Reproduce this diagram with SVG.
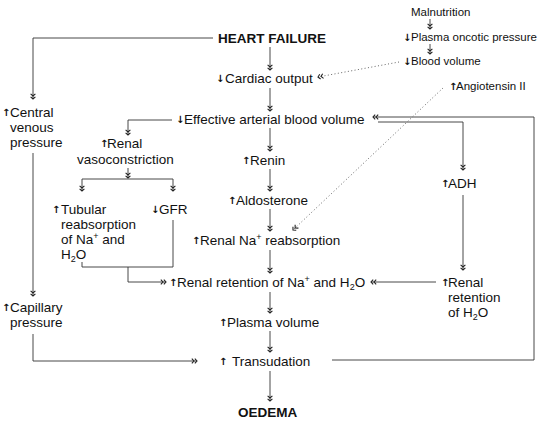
<svg xmlns="http://www.w3.org/2000/svg" width="545" height="428" viewBox="0 0 545 428">
<defs>
<style>
.t{font-family:"Liberation Sans",Arial,sans-serif;font-size:13.5px;fill:#111}
.b{font-weight:bold}
.s{font-size:11.5px}
.a{font-family:"DejaVu Sans",sans-serif;font-size:10px;font-weight:bold;fill:#111}
.sm{font-size:9px}
.ln{fill:none;stroke:#333;stroke-width:0.9;marker-end:url(#m)}
.ln2{fill:none;stroke:#333;stroke-width:0.9}
.dt{fill:none;stroke:#666;stroke-width:1;stroke-dasharray:1 2.4;marker-end:url(#m)}
</style>
<marker id="m" markerUnits="userSpaceOnUse" markerWidth="10" markerHeight="10" viewBox="-7 -5 10 10" refX="0" refY="0" orient="auto" overflow="visible">
<path d="M-2.2,-2.4 L0,0 L-2.2,2.4 M-5.2,-2.4 L-3,0 L-5.2,2.4" fill="none" stroke="#222" stroke-width="1.1"/>
</marker>
</defs>
<rect width="545" height="428" fill="#fff"/>

<g id="connectors">
<path class="ln" d="M213,38 H33 V99"/>
<path class="ln" d="M270,47 V70"/>
<path class="ln" d="M270,88 V111"/>
<path class="ln" d="M172,120 H128 V135"/>
<path class="ln" d="M128,168 V178"/>
<path class="ln" d="M128,179 H82 V191"/>
<path class="ln" d="M128,179 H173 V191"/>
<path class="ln" d="M270,128 V151"/>
<path class="ln" d="M270,169 V191"/>
<path class="ln" d="M270,209 V231"/>
<path class="ln" d="M270,250 V273"/>
<path class="ln2" d="M82,262 V267 H173 V220"/>
<path class="ln" d="M128,267 V282 H166"/>
<path class="ln" d="M270,292 V313"/>
<path class="ln" d="M270,331 V352"/>
<path class="ln" d="M270,371 V401"/>
<path class="ln" d="M33,153 V296"/>
<path class="ln" d="M33,334 V361 H197"/>
<path class="ln" d="M332,360 H534 V117 H373"/>
<path class="ln" d="M378,122 H463 V170"/>
<path class="ln" d="M463,195 V270"/>
<path class="ln" d="M436,282 H371"/>
<path class="ln" d="M430,19 V29"/>
<path class="ln" d="M430,44 V54"/>
<path class="dt" d="M399,62 L318,77"/>
<path class="dt" d="M443,88 L293,230"/>
</g>

<g id="n-hf"><text class="t b" x="218" y="43">HEART FAILURE</text></g>
<g id="n-co"><text class="a" x="216" y="82">↓</text><text class="t" x="225" y="83">Cardiac output</text></g>
<g id="n-eabv"><text class="a" x="176" y="123">↓</text><text class="t" x="184" y="124">Effective arterial blood volume</text></g>
<g id="n-cvp"><text class="a" x="2" y="116">↑</text><text class="t" x="10" y="117">Central</text><text class="t" x="10" y="132">venous</text><text class="t" x="10" y="147">pressure</text></g>
<g id="n-rv"><text class="a" x="100" y="147">↑</text><text class="t" x="107" y="148">Renal</text><text class="t" x="77" y="164">vasoconstriction</text></g>
<g id="n-tub"><text class="a" x="52" y="213">↑</text><text class="t" x="61" y="214">Tubular</text><text class="t" x="61" y="229">reabsorption</text><text class="t" x="61" y="244">of Na<tspan class="sm" dy="-5">+</tspan><tspan dy="5"> and</tspan></text><text class="t" x="61" y="259">H<tspan class="sm" dy="3">2</tspan><tspan dy="-3">O</tspan></text></g>
<g id="n-gfr"><text class="a" x="151" y="213">↓</text><text class="t" x="159" y="214">GFR</text></g>
<g id="n-renin"><text class="a" x="242" y="164">↑</text><text class="t" x="250" y="165">Renin</text></g>
<g id="n-aldo"><text class="a" x="228" y="204">↑</text><text class="t" x="236" y="205">Aldosterone</text></g>
<g id="n-rna"><text class="a" x="192" y="244">↑</text><text class="t" x="200" y="245">Renal Na<tspan class="sm" dy="-5">+</tspan><tspan dy="5"> reabsorption</tspan></text></g>
<g id="n-ret"><text class="a" x="169" y="286">↑</text><text class="t" x="177" y="287">Renal retention of Na<tspan class="sm" dy="-5">+</tspan><tspan dy="5"> and H</tspan><tspan class="sm" dy="3">2</tspan><tspan dy="-3">O</tspan></text></g>
<g id="n-adh"><text class="a" x="441" y="187">↑</text><text class="t" x="448" y="188">ADH</text></g>
<g id="n-rh2o"><text class="a" x="441" y="286">↑</text><text class="t" x="448" y="287">Renal</text><text class="t" x="448" y="302">retention</text><text class="t" x="448" y="317">of H<tspan class="sm" dy="3">2</tspan><tspan dy="-3">O</tspan></text></g>
<g id="n-cap"><text class="a" x="2" y="311">↑</text><text class="t" x="10" y="312">Capillary</text><text class="t" x="10" y="327">pressure</text></g>
<g id="n-pv"><text class="a" x="219" y="326">↑</text><text class="t" x="227" y="327">Plasma volume</text></g>
<g id="n-trans"><text class="a" x="219" y="365">↑</text><text class="t" x="232" y="366">Transudation</text></g>
<g id="n-oed"><text class="t b" x="238" y="417">OEDEMA</text></g>
<g id="n-mal"><text class="t s" x="411" y="16">Malnutrition</text></g>
<g id="n-poc"><text class="a" x="403" y="41">↓</text><text class="t s" x="411" y="41">Plasma oncotic pressure</text></g>
<g id="n-bv"><text class="a" x="403" y="65">↓</text><text class="t s" x="411" y="65">Blood volume</text></g>
<g id="n-ang"><text class="a" x="449" y="90">↑</text><text class="t s" x="456" y="90">Angiotensin II</text></g>
</svg>
